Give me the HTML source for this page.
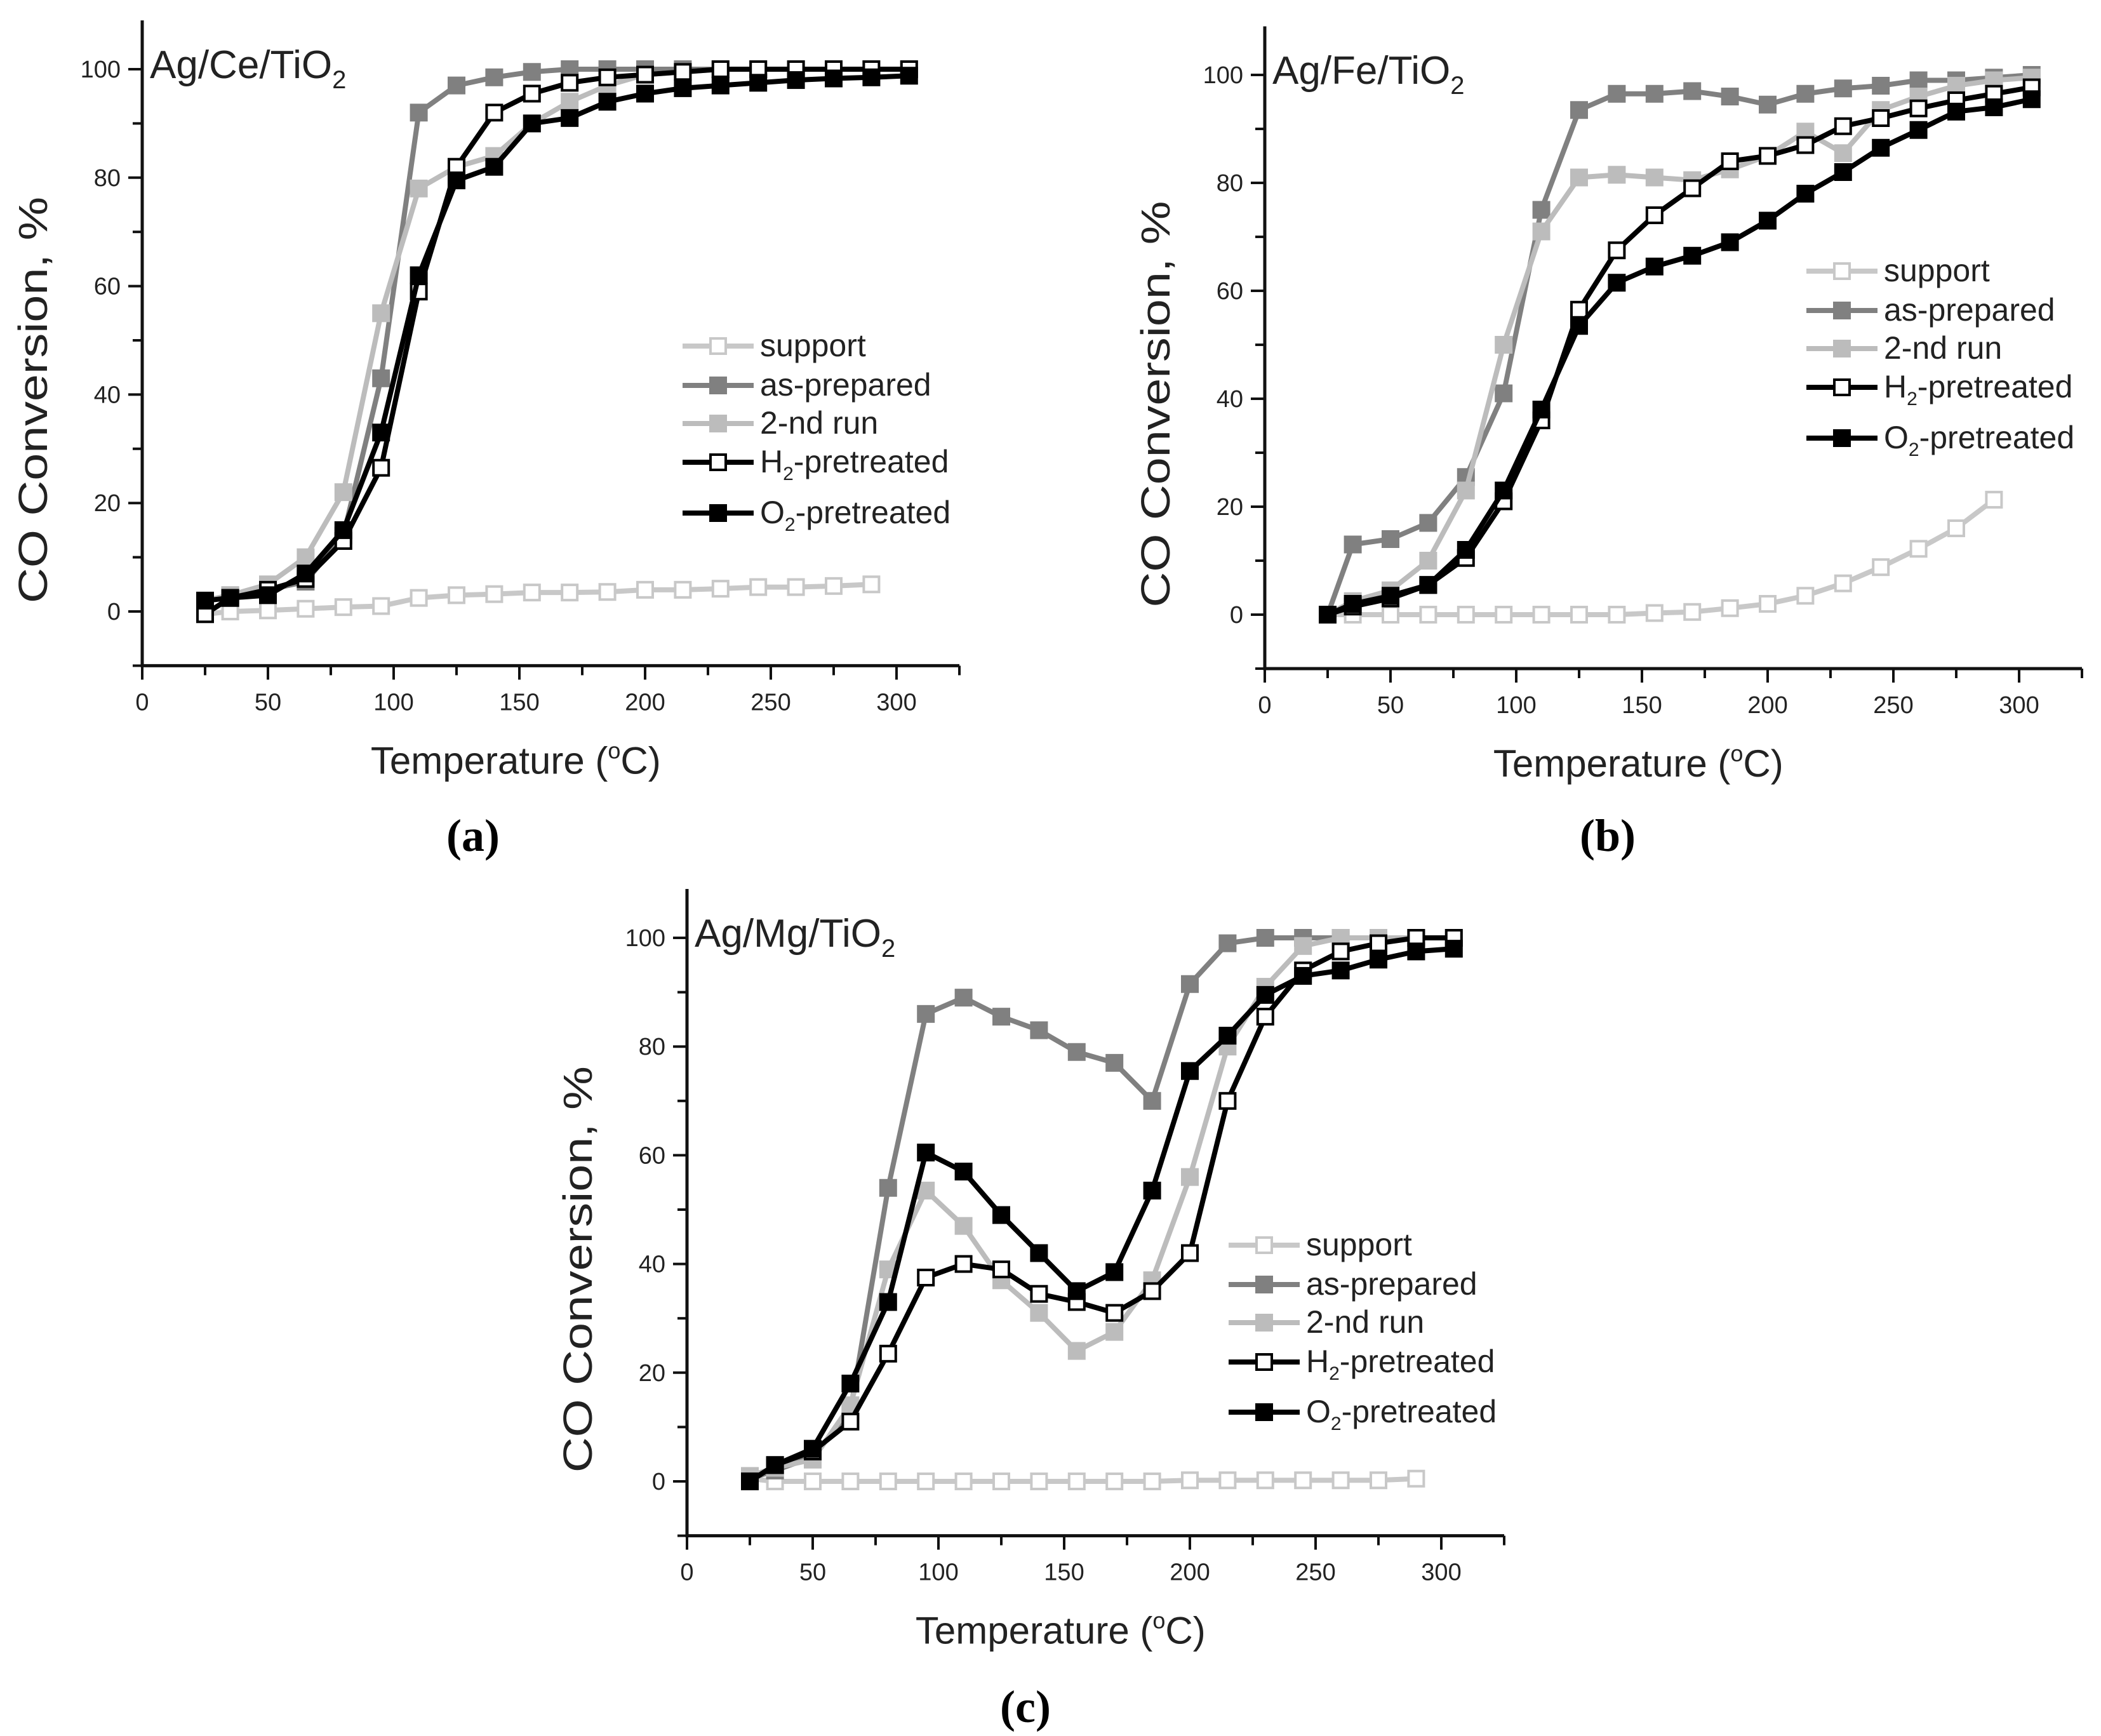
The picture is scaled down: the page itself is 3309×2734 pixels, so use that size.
<!DOCTYPE html>
<html><head><meta charset="utf-8">
<style>
html,body{margin:0;padding:0;background:#fff;}
svg{display:block;}
text{font-family:"Liberation Sans",Arial,sans-serif;fill:#222;}
.lbl{font-family:"Liberation Serif",serif;font-weight:bold;fill:#000;}
</style></head>
<body>
<svg id="fig" width="3309" height="2734" viewBox="0 0 3309 2734" xmlns="http://www.w3.org/2000/svg"></svg>
<script>
const temps = [25,35,50,65,80,95,110,125,140,155,170,185,200,215,230,245,260,275,290,305];
const supportTemps = [25,35,50,65,80,95,110,125,140,155,170,185,200,215,230,245,260,275,290];
const xTicks = [0,50,100,150,200,250,300];
const yTicks = [0,20,40,60,80,100];
const seriesNames = ["support","as-prepared","2-nd run","H2-pretreated","O2-pretreated"];

// Panel a: Ag/Ce/TiO2
const aSupport = [-0.5,0,0.2,0.5,0.8,1,2.5,3,3.2,3.5,3.5,3.6,4,4,4.2,4.5,4.5,4.7,5];
const aAsPrep = [2,3,4,5.5,14,43,92,97,98.5,99.5,100,100,100,100,100,100,100,100,100,100];
const aSecond = [2,3,5,10,22,55,78,82,84,90,94,97,99,99.5,100,100,100,100,100,100];
const aH2 = [-0.5,2.5,4,6,13,26.5,59,82,92,95.5,97.5,98.5,99,99.5,100,100,100,100,100,100];
const aO2 = [2,2.5,3,7,15,33,62,79.5,82,90,91,94,95.5,96.5,97,97.5,98,98.3,98.5,98.8];

// Panel b: Ag/Fe/TiO2
const bSupport = [0,0,0,0,0,0,0,0,0,0.3,0.5,1.2,2,3.5,5.8,8.8,12.2,16,21.3];
const bAsPrep = [0,13,14,17,25.5,41,75,93.5,96.5,96.5,97,96,94.5,96.5,97.5,98,99,99,99.5,100];
const bSecond = [0,2.5,4.5,10,23,50,71,81,81.5,81,80.5,82.5,85,89.5,85.5,93.5,96,98,99,99.5];
const bH2 = [0,1.5,3,5.5,10.5,21,36,56.5,67.5,74,79,84,85,87,90.5,92,93.8,95.3,96.5,97.7];
const bO2 = [0,2,3.5,5.5,12,23,38,53.5,61.5,64.5,66.5,69,73,78,82,86.5,89.8,93.2,94,95.5];

// Panel c: Ag/Mg/TiO2
const cSupport = [0.5,0,0,0,0,0,0,0,0,0,0,0,0.2,0.2,0.2,0.2,0.2,0.2,0.5];
const cAsPrep = [0.5,2,4.5,13,54,86,89,85.5,83,79,77,70,91.5,99,100,100,100,100,100,100];
const cSecond = [1,2.5,4,14,39,53.5,47,37,31,24,27.5,37,56,80,91,98.5,100,100,100,100];
const cH2 = [0,3,5.5,11,23.5,37.5,40,39,34.5,33,31,35,42,70,85.5,94,97.5,99,100,100];
const cO2 = [0,3,6,18,33,60.5,57,49,42,35,38.5,53.5,75.5,82,89.5,93,94,96,97.5,98];

const NS = "http://www.w3.org/2000/svg";
const svg = document.getElementById('fig');
function mk(tag, attrs, parent){
  const e = document.createElementNS(NS, tag);
  for (const k in attrs) e.setAttribute(k, attrs[k]);
  (parent||svg).appendChild(e);
  return e;
}
const styles = [
  {line:"#c8c8c8", fill:"#ffffff", stroke:"#c8c8c8"},
  {line:"#808080", fill:"#808080", stroke:"#808080"},
  {line:"#bcbcbc", fill:"#bcbcbc", stroke:"#bcbcbc"},
  {line:"#000000", fill:"#ffffff", stroke:"#000000"},
  {line:"#000000", fill:"#000000", stroke:"#000000"}
];

function panel(id, P, title, letter, data){
  const g = mk('g', {});
  
  
  const X = t => P.x0 + t * P.sx;
  const Y = v => P.y0 - v * P.sy;
  const yMin = -10, yMax = 109, xMax = 325;
  const ax = mk('path', {d:`M${X(0)},${Y(yMax)} V${Y(yMin)} H${X(xMax)}`, fill:'none', stroke:'#111', 'stroke-width':5}, g);
  
  
  for (let t = 0; t <= 325; t += 25) {
    const major = t % 50 === 0;
    mk('line', {x1:X(t), x2:X(t), y1:Y(yMin), y2:Y(yMin)+(major?22:15), stroke:'#111','stroke-width':4}, g);
  }
  for (let v = -10; v <= 100; v += 10) {
    const major = v % 20 === 0;
    mk('line', {x1:X(0), x2:X(0)-(major?22:15), y1:Y(v), y2:Y(v), stroke:'#111','stroke-width':4}, g);
  }
  xTicks.forEach(t => {
    const tx = mk('text', {x:X(t), y:Y(yMin)+70, 'font-size':38, 'text-anchor':'middle'}, g);
    tx.textContent = t;
    
    
  });
  yTicks.forEach(v => {
    const tx = mk('text', {x:X(0)-34, y:Y(v)+13, 'font-size':38, 'text-anchor':'end'}, g);
    tx.textContent = v;
    
    
  });
  const yt = mk('text', {x:0, y:0, 'font-size':64, 'text-anchor':'middle', textLength:640, lengthAdjust:'spacingAndGlyphs', transform:`translate(${P.x0-150},${Y(39)}) rotate(-90)`}, g);
  yt.textContent = 'CO Conversion, %';
  
  
  const xt = mk('text', {x:X(152)-242, y:Y(yMin)+170, 'font-size':60}, g);
  xt.innerHTML = 'Temperature (<tspan dy="-24" font-size="36">o</tspan><tspan dy="24">C)</tspan>';
  
  
  const tt = mk('text', {x:X(0)+12, y:Y(100)+14, 'font-size':62}, g);
  tt.innerHTML = title + '<tspan dy="16" font-size="40">2</tspan>';
  
  
  data.forEach((vals, i) => {
    const ts = i === 0 ? supportTemps : temps;
    const s = styles[i];
    const sg = mk('g', {}, g);
    
    
    const d = vals.map((v, k) => (k ? 'L' : 'M') + X(ts[k]) + ',' + Y(v)).join(' ');
    mk('path', {d, fill:'none', stroke:s.line, 'stroke-width':8, 'stroke-linejoin':'round'}, sg);
    vals.forEach((v, k) => {
      const r = mk('rect', {x:X(ts[k])-12, y:Y(v)-12, width:24, height:24, fill:s.fill, stroke:s.stroke, 'stroke-width':4}, sg);
      
      
    });
  });
  const lg = mk('g', {}, g);
  
  
  const labels = ['support','as-prepared','2-nd run','H<tspan dy="12" font-size="30">2</tspan><tspan dy="-12">-pretreated</tspan>','O<tspan dy="12" font-size="30">2</tspan><tspan dy="-12">-pretreated</tspan>'];
  P.legY.forEach((ly, i) => {
    const s = styles[i];
    const e = mk('g', {}, lg);
    
    
    mk('line', {x1:P.legX, x2:P.legX+112, y1:ly, y2:ly, stroke:s.line, 'stroke-width':8}, e);
    mk('rect', {x:P.legX+44, y:ly-12, width:24, height:24, fill:s.fill, stroke:s.stroke, 'stroke-width':4}, e);
    const t = mk('text', {x:P.legX+122, y:ly+16, 'font-size':50}, e);
    t.innerHTML = labels[i];
  });
  const pl = mk('text', {x:P.labX, y:P.labY, 'font-size':72, 'text-anchor':'middle', class:'lbl'}, g);
  pl.textContent = '(' + letter + ')';
  
  
}

panel('a', {x0:224, y0:963, sx:3.96, sy:8.54, legX:1075, legY:[545,607,667,728,808], labX:745, labY:1340}, 'Ag/Ce/TiO', 'a',
  [aSupport,aAsPrep,aSecond,aH2,aO2]);
panel('b', {x0:1992, y0:968, sx:3.96, sy:8.5, legX:2845, legY:[427,489,549,610,690], labX:2532, labY:1340}, 'Ag/Fe/TiO', 'b',
  [bSupport,bAsPrep,bSecond,bH2,bO2]);
panel('c', {x0:1082, y0:2333, sx:3.96, sy:8.56, legX:1935, legY:[1961,2023,2083,2145,2224], labX:1615, labY:2712}, 'Ag/Mg/TiO', 'c',
  [cSupport,cAsPrep,cSecond,cH2,cO2]);
</script>
</body></html>
